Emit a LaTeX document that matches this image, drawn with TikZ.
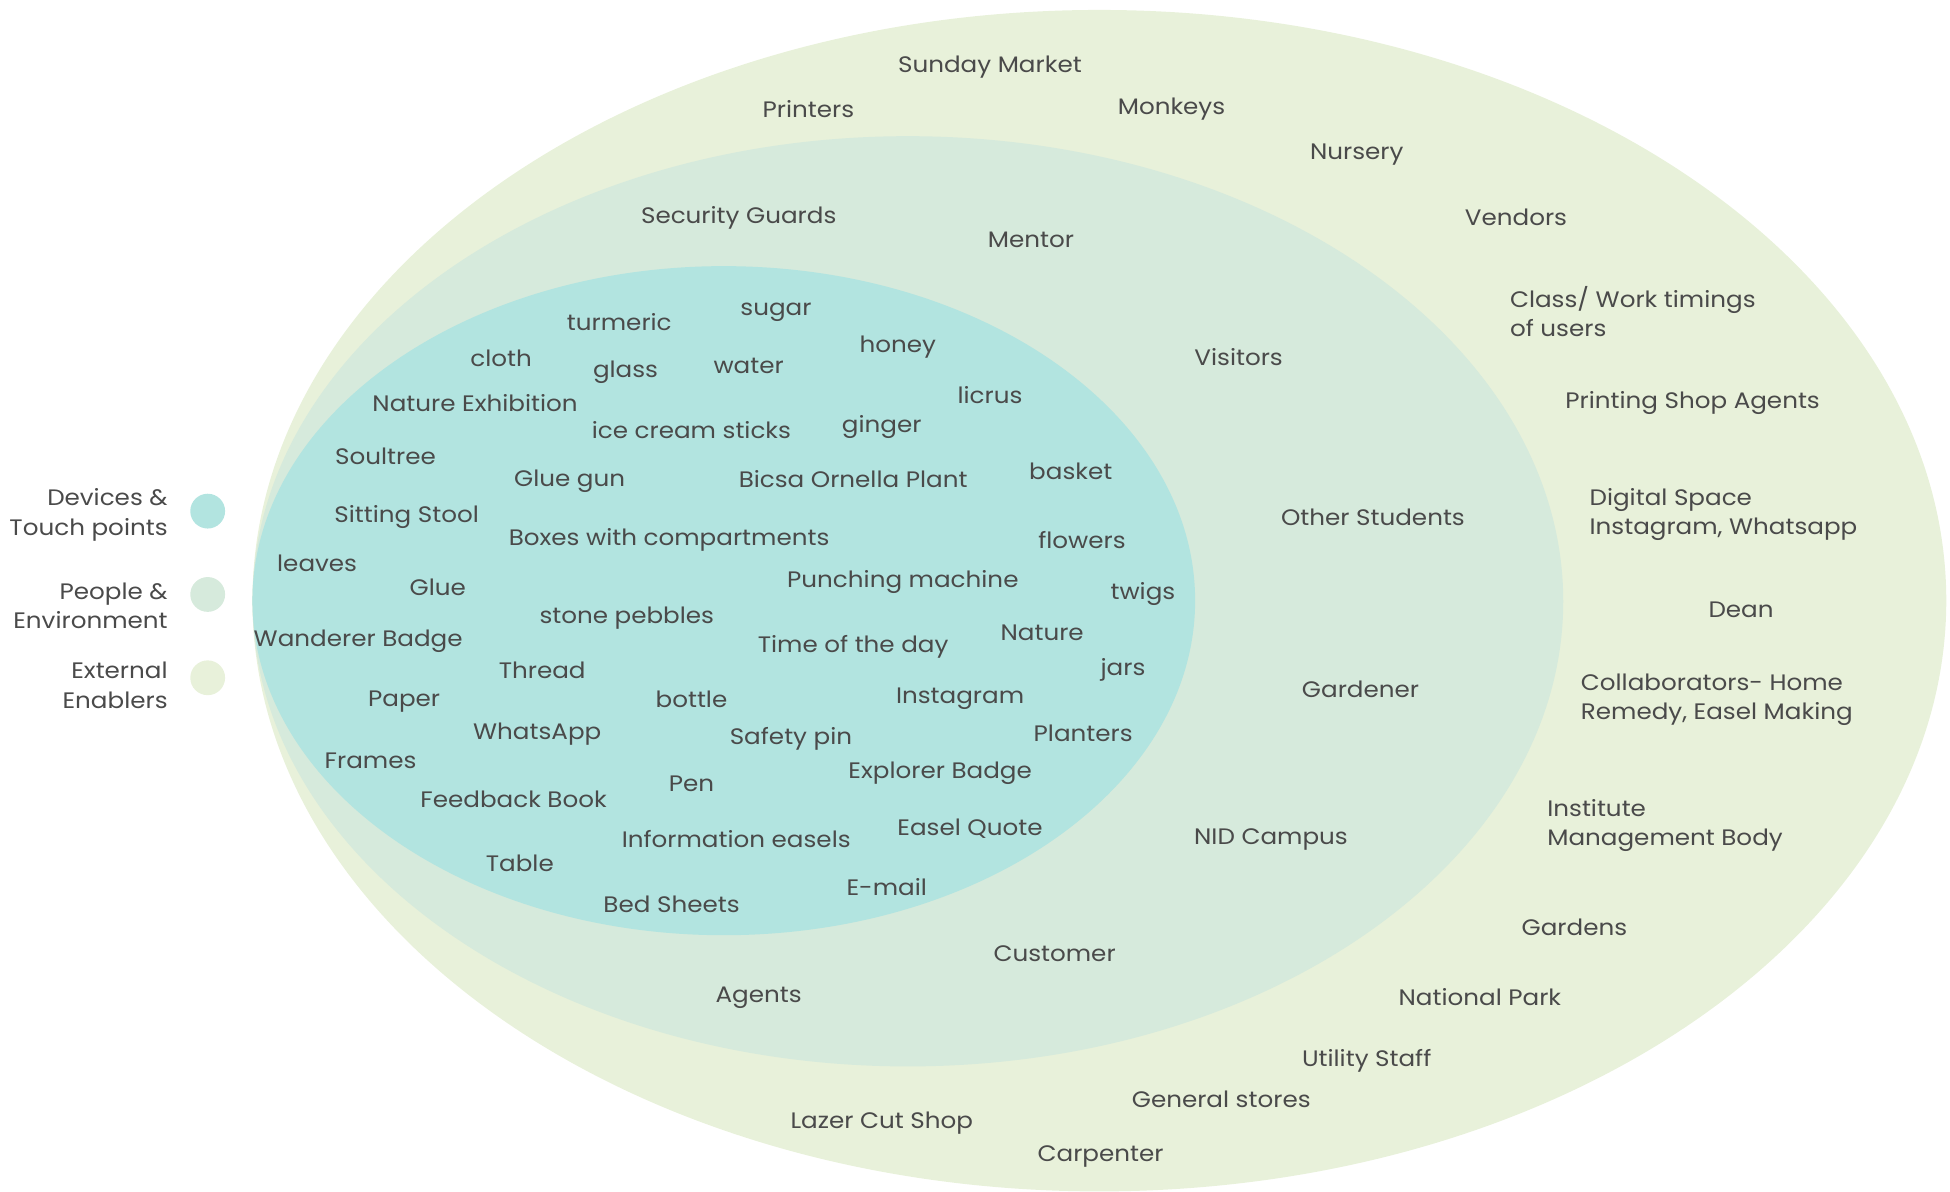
\documentclass[tikz,border=0pt]{standalone}
\usepackage{fontspec}
\setmainfont[FakeStretch=1.1]{Poppins}
\definecolor{innerfill}{HTML}{B2E4E0}
\definecolor{middlefill}{HTML}{D6EADC}
\definecolor{outerfill}{HTML}{E8F1DA}
\definecolor{labeltext}{HTML}{4A4A4A}
\tikzset{
  lbl/.style={text=labeltext, font=\fontsize{18}{23.5}\selectfont, inner sep=0pt, yshift=-2pt},
  lblL/.style={lbl, anchor=west, align=left},
  lblR/.style={lbl, anchor=east, align=right},
  dot/.style={circle, minimum size=28pt, inner sep=0pt}
}
\begin{document}
\begin{tikzpicture}[x=1pt,y=-1pt]
\useasboundingbox (0,0) rectangle (1568,958);

% three nested rings
\fill[outerfill]  (884,483) ellipse [x radius=681, y radius=475];
\fill[middlefill] (730,483.5) ellipse [x radius=527, y radius=374];
\fill[innerfill]  (582,483) ellipse [x radius=379, y radius=269];

% legend
\node[dot, fill=innerfill]  (d1) at (167,411) {};
\node[dot, fill=middlefill] (d2) at (167,478) {};
\node[dot, fill=outerfill]  (d3) at (167,545) {};
\node[lblR] (l1) at (135,412) {Devices \&\\Touch points};
\node[lblR] (l2) at (135,485) {People \&\\Environment};
\node[lblR] (l3) at (135,549) {External\\Enablers};

% devices & touch points
\node[lbl] (turmeric) at (498,257) {turmeric};
\node[lbl] (sugar) at (624,249) {sugar};
\node[lbl] (cloth) at (403,286) {cloth};
\node[lbl] (glass) at (503,297) {glass};
\node[lbl] (water) at (602,292) {water};
\node[lbl] (honey) at (722,277) {honey};
\node[lbl] (licrus) at (796,316) {licrus};
\node[lbl] (natexh) at (382,322) {Nature Exhibition};
\node[lbl] (icecream) at (556,344) {ice cream sticks};
\node[lbl] (ginger) at (709,341) {ginger};
\node[lbl] (soultree) at (310,365) {Soultree};
\node[lbl] (gluegun) at (458,385) {Glue gun};
\node[lbl] (bicsa) at (686,383) {Bicsa Ornella Plant};
\node[lbl] (basket) at (861,377) {basket};
\node[lbl] (stool) at (327,414) {Sitting Stool};
\node[lbl] (boxes) at (538,432) {Boxes with compartments};
\node[lbl] (flowers) at (870,432) {flowers};
\node[lbl] (leaves) at (255,451) {leaves};
\node[lbl] (glue) at (352,470) {Glue};
\node[lbl] (punch) at (726,466) {Punching machine};
\node[lbl] (twigs) at (919,476) {twigs};
\node[lbl] (pebbles) at (504,495) {stone pebbles};
\node[lbl] (nature) at (838,507) {Nature};
\node[lbl] (wanderer) at (288,514) {Wanderer Badge};
\node[lbl] (timeday) at (686,518) {Time of the day};
\node[lbl] (jars) at (903,537) {jars};
\node[lbl] (thread) at (436,537) {Thread};
\node[lbl] (paper) at (325,562) {Paper};
\node[lbl] (bottle) at (556,560) {bottle};
\node[lbl] (insta) at (772,560) {Instagram};
\node[lbl] (whatsapp) at (432,588) {WhatsApp};
\node[lbl] (safety) at (636,592) {Safety pin};
\node[lbl] (planters) at (871,588) {Planters};
\node[lbl] (frames) at (298,610) {Frames};
\node[lbl] (explorer) at (756,620) {Explorer Badge};
\node[lbl] (pen) at (556,628) {Pen};
\node[lbl] (feedback) at (413,641) {Feedback Book};
\node[lbl] (easelq) at (780,664) {Easel Quote};
\node[lbl] (infoeasel) at (592,673) {Information easels};
\node[lbl] (table) at (418,692) {Table};
\node[lbl] (email) at (713,711) {E-mail};
\node[lbl] (sheets) at (540,725) {Bed Sheets};

% people & environment
\node[lbl] (security) at (594,173) {Security Guards};
\node[lbl] (mentor) at (829,191) {Mentor};
\node[lbl] (visitors) at (996,285) {Visitors};
\node[lbl] (students) at (1104,414) {Other Students};
\node[lbl] (gardener) at (1094,552) {Gardener};
\node[lbl] (campus) at (1022,673) {NID Campus};
\node[lbl] (customer) at (848,765) {Customer};
\node[lbl] (agents) at (610,800) {Agents};

% external enablers
\node[lbl] (sunday) at (796,52) {Sunday Market};
\node[lbl] (printers) at (650,86) {Printers};
\node[lbl] (monkeys) at (942,86) {Monkeys};
\node[lbl] (nursery) at (1091,122) {Nursery};
\node[lbl] (vendors) at (1219,173) {Vendors};
\node[lblL] (timings) at (1214,248.5) {Class/ Work timings\\of users};
\node[lbl] (printshop) at (1361,322) {Printing Shop Agents};
\node[lblL] (digital) at (1278,412) {Digital Space\\Instagram, Whatsapp};
\node[lbl] (dean) at (1400,488) {Dean};
\node[lblL] (collab) at (1271,560.5) {Collaborators- Home\\Remedy, Easel Making};
\node[lblL] (institute) at (1244,661.5) {Institute\\Management Body};
\node[lbl] (gardens) at (1266,744) {Gardens};
\node[lbl] (natpark) at (1190,800) {National Park};
\node[lbl] (utility) at (1099,851) {Utility Staff};
\node[lbl] (stores) at (982,882) {General stores};
\node[lbl] (lazer) at (709,901) {Lazer Cut Shop};
\node[lbl] (carpenter) at (885,928) {Carpenter};
\end{tikzpicture}
\end{document}
